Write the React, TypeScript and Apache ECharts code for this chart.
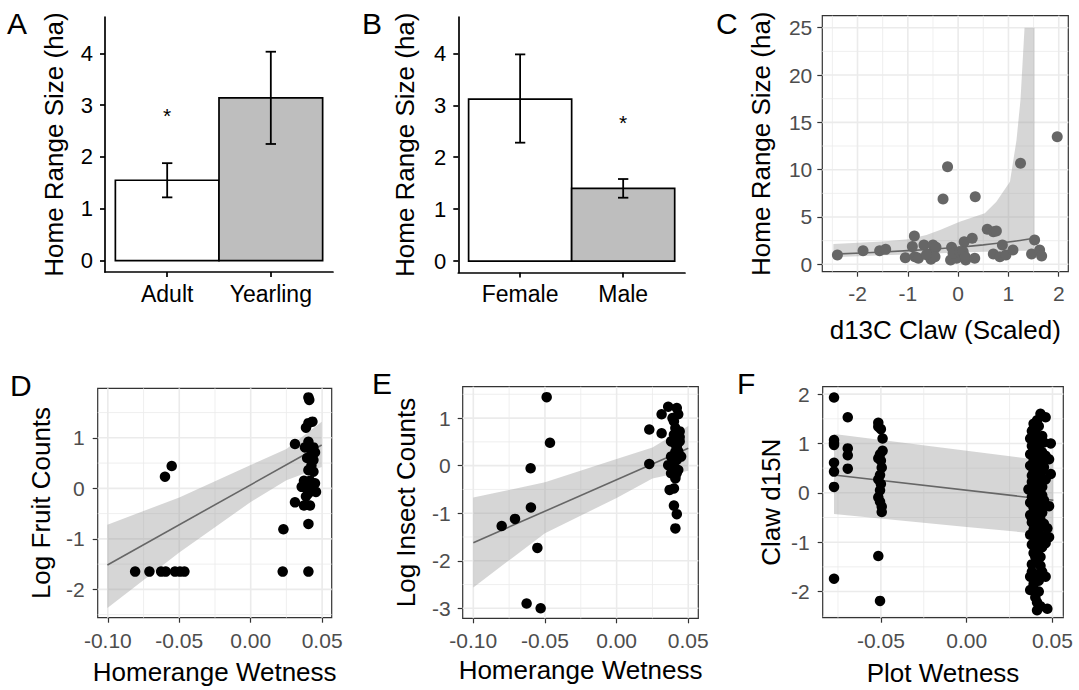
import React, { useEffect, useRef } from "react";
import * as echarts from "echarts";

const FONT = '"Liberation Sans", Arial, Helvetica, sans-serif';

// ---------------- Panel A : age ----------------
const ageCategories = ["Adult", "Yearling"];
const ageMeans = [1.55, 3.14];
const ageLower = [1.22, 2.25];
const ageUpper = [1.88, 4.03];
const ageStars = [2.9, null];

// ---------------- Panel B : sex ----------------
const sexCategories = ["Female", "Male"];
const sexMeans = [3.12, 1.4];
const sexLower = [2.28, 1.22];
const sexUpper = [3.98, 1.58];
const sexStars = [null, 2.77];

const barYTicks = [0, 1, 2, 3, 4];
const barXTicks = [1, 2];

// ---------------- Panel C : d13C claw ----------------
const clawPoints: [number, number][] = [
  [-2.4, 0.99], [-1.89, 1.44], [-1.56, 1.44], [-1.44, 1.58], [-1.05, 0.7], [-0.87, 2.99],
  [-0.91, 1.87], [-0.86, 0.81], [-0.79, 0.63], [-0.5, 1.16], [-0.68, 2.04], [-0.5, 2.04],
  [-0.44, 1.8], [-0.54, 0.53], [-0.46, 0.81], [-0.63, 1.0], [-0.3, 6.9], [-0.21, 10.32],
  [-0.13, 1.8], [-0.15, 0.46], [-0.03, 0.63], [-0.1, 1.16], [0.03, 1.33], [0.12, 2.39],
  [0.1, 1.34], [0.15, 0.46], [0.14, 0.8], [0.28, 2.75], [0.33, 0.63], [0.34, 7.15],
  [0.58, 3.7], [0.7, 3.45], [0.76, 3.52], [0.7, 1.09], [0.88, 2.04], [0.83, 0.81],
  [0.95, 0.99], [1.09, 1.51], [1.24, 10.67], [1.52, 2.57], [1.46, 1.09], [1.62, 1.51],
  [1.66, 0.88], [1.97, 13.49],
];
const clawFitX = [-2.48, -1.5, -0.5, 0, 0.5, 1.0, 1.52];
const clawFitY = [1.08, 1.3, 1.6, 1.8, 2.05, 2.35, 2.75];
const clawBandX = [-2.48, -1.5, -1.0, -0.63, -0.36, 0.03, 0.53, 0.76, 1.03, 1.16, 1.24, 1.32, 1.52];
const clawBandLow = [0.75, 0.95, 1.05, 1.12, 1.18, 1.25, 1.32, 1.36, 1.4, 1.42, 1.43, 1.44, 1.45];
const clawBandHigh = [2.15, 2.4, 2.64, 3.1, 3.63, 4.5, 5.39, 6.6, 8.73, 13.1, 17.4, 25, 25];
const clawXTicks = [-2, -1, 0, 1, 2];
const clawXMinor = [-2.5, -1.5, -0.5, 0.5, 1.5];
const clawYTicks = [0, 5, 10, 15, 20, 25];
const clawYMinor = [2.5, 7.5, 12.5, 17.5, 22.5];

// ---------------- Panel D : fruit ----------------
const fruitPoints: [number, number][] = [
  [-0.0809, -1.648], [-0.0709, -1.648], [-0.0627, -1.648], [-0.0595, -1.648], [-0.053, -1.648],
  [-0.0495, -1.648], [-0.0464, -1.648], [-0.06, 0.231], [-0.0553, 0.442], [0.0224, -1.648],
  [0.0229, -0.811], [0.031, 0.877], [0.031, -0.277], [0.0404, -1.648], [0.0404, -0.705],
  [0.0404, 1.8], [0.041, 1.75], [0.0404, 1.29], [0.0432, 1.32], [0.0387, 1.2], [0.0404, 0.92],
  [0.038, 0.81], [0.0439, 0.81], [0.0427, 0.71], [0.045, 0.71], [0.0439, 0.56], [0.0404, 0.36],
  [0.0439, 0.33], [0.0373, 0.15], [0.0415, 0.15], [0.045, 0.1], [0.0357, 0.03], [0.0392, 0.0],
  [0.0427, -0.03], [0.0457, -0.07], [0.0404, -0.1], [0.0373, -0.34], [0.0415, -0.34],
  [0.0387, -0.16], [0.0395, 0.6], [0.0425, 0.45],
];
const fruitFitX = [-0.1003, 0.0497];
const fruitFitY = [-1.516, 0.857];
const fruitBandX = [-0.1003, -0.05, 0, 0.025, 0.0497];
const fruitBandLow = [-2.37, -1.27, -0.27, 0.16, 0.42];
const fruitBandHigh = [-0.72, -0.18, 0.46, 0.78, 1.32];
const fruitXTicks = [-0.1, -0.05, 0, 0.05];
const fruitXMinor = [-0.075, -0.025, 0.025];
const fruitYTicks = [-2, -1, 0, 1];
const fruitYMinor = [-2.5, -1.5, -0.5, 0.5, 1.5];

// ---------------- Panel E : insects ----------------
const insectPoints: [number, number][] = [
  [-0.0488, 1.44], [-0.0465, 0.48], [-0.06, -0.056], [-0.0598, -0.88], [-0.0802, -1.27],
  [-0.0709, -1.12], [-0.0553, -1.73], [-0.0628, -2.9], [-0.053, -3.0], [0.0228, 0.76],
  [0.0228, 0.035], [0.0314, 1.08], [0.0314, 0.68],
  [0.036, 1.24], [0.042, 1.21], [0.043, 1.08], [0.04, 0.93], [0.041, 0.79], [0.044, 0.72],
  [0.04, 0.65], [0.043, 0.54], [0.038, 0.51], [0.042, 0.4], [0.041, 0.29], [0.045, 0.19],
  [0.038, 0.19], [0.042, 0.12], [0.036, 0.01], [0.04, -0.02], [0.043, -0.09], [0.038, -0.16],
  [0.041, -0.27], [0.04, -0.48], [0.037, -0.51], [0.04, -0.84], [0.042, -1.02], [0.041, -1.32],
  [0.039, 1.0], [0.044, 0.6], [0.041, 0.45], [0.043, 0.3], [0.039, 0.05], [0.042, -0.15],
  [0.041, -0.22], [0.044, 0.51],
];
const insectFitX = [-0.1, 0.05];
const insectFitY = [-1.62, 0.365];
const insectBandX = [-0.1, -0.05, 0, 0.025, 0.05];
const insectBandLow = [-2.56, -1.42, -0.68, -0.27, -0.11];
const insectBandHigh = [-0.67, -0.35, 0.14, 0.38, 0.835];
const insectXTicks = [-0.1, -0.05, 0, 0.05];
const insectXMinor = [-0.075, -0.025, 0.025];
const insectYTicks = [-3, -2, -1, 0, 1];
const insectYMinor = [-2.5, -1.5, -0.5, 0.5, 1.5];

// ---------------- Panel F : claw d15N ----------------
const nitrogenPoints: [number, number][] = [
  [-0.0773, 1.93], [-0.0773, 1.07], [-0.0773, 1.01], [-0.0773, 0.97], [-0.0773, 0.61],
  [-0.0773, 0.43], [-0.0773, 0.12], [-0.0773, -1.74],
  [-0.0693, 1.53], [-0.0693, 0.9], [-0.0693, 0.76], [-0.0693, 0.49],
  [-0.0515, 1.42], [-0.0515, 1.34], [-0.05, 1.29], [-0.049, 1.1], [-0.049, 0.85], [-0.0505, 0.78],
  [-0.0515, 0.7], [-0.05, 0.65], [-0.0495, 0.51], [-0.0505, 0.36], [-0.0515, 0.27], [-0.05, 0.18],
  [-0.0505, 0.05], [-0.0515, -0.09], [-0.0505, -0.18], [-0.0495, -0.28], [-0.0495, -0.39],
  [-0.0515, -1.28], [-0.0505, -2.19],
  [0.043, 1.6], [0.046, 1.53], [0.041, 1.47], [0.039, 1.4], [0.042, 1.35], [0.038, 1.25],
  [0.04, 1.2], [0.044, 1.15], [0.037, 1.1], [0.041, 1.08], [0.045, 1.02], [0.049, 1.0],
  [0.038, 0.95], [0.042, 0.92], [0.04, 0.85], [0.044, 0.82], [0.037, 0.78], [0.046, 0.75],
  [0.041, 0.7], [0.048, 0.68], [0.039, 0.65], [0.043, 0.6], [0.037, 0.55], [0.045, 0.52],
  [0.041, 0.48], [0.039, 0.42], [0.049, 0.38], [0.043, 0.36], [0.04, 0.3], [0.046, 0.27],
  [0.038, 0.22], [0.042, 0.18], [0.044, 0.12], [0.039, 0.08], [0.036, 0.07], [0.041, 0.02],
  [0.043, -0.03], [0.038, -0.08], [0.04, -0.12], [0.045, -0.15], [0.037, -0.2], [0.042, -0.25],
  [0.048, -0.27], [0.039, -0.3], [0.041, -0.36], [0.044, -0.4], [0.037, -0.45], [0.04, -0.5],
  [0.043, -0.55], [0.038, -0.6], [0.045, -0.63], [0.041, -0.68], [0.047, -0.72], [0.039, -0.75],
  [0.042, -0.8], [0.037, -0.85], [0.044, -0.88], [0.048, -0.9], [0.04, -0.95], [0.046, -1.02],
  [0.038, -1.05], [0.042, -1.15], [0.039, -1.22], [0.043, -1.3], [0.041, -1.4], [0.043, -1.48],
  [0.038, -1.6], [0.04, -1.65], [0.037, -1.7], [0.046, -1.7], [0.042, -1.78], [0.039, -1.85],
  [0.037, -1.97], [0.042, -2.0], [0.04, -2.12], [0.041, -2.22], [0.043, -2.3], [0.047, -2.35],
  [0.041, -2.38],
  [0.039, 1.3], [0.041, 1.15], [0.043, 1.0], [0.039, 0.88], [0.042, 0.72], [0.04, 0.58],
  [0.044, 0.45], [0.038, 0.35], [0.042, 0.28], [0.04, 0.15], [0.044, -0.05], [0.039, -0.18],
  [0.043, -0.32], [0.04, -0.42], [0.038, -0.52], [0.042, -0.65], [0.04, -0.78], [0.043, -0.92],
  [0.041, -0.98], [0.044, -1.1], [0.04, -1.3], [0.038, -1.45], [0.044, -1.6], [0.039, -1.75],
];
const nitrogenFitX = [-0.0773, 0.0505];
const nitrogenFitY = [0.36, -0.15];
const nitrogenBandX = [-0.0773, 0, 0.0505];
const nitrogenBandLow = [-0.43, -0.69, -0.86];
const nitrogenBandHigh = [1.19, 0.85, 0.63];
const nitrogenXTicks = [-0.05, 0, 0.05];
const nitrogenXMinor = [-0.075, -0.025, 0.025];
const nitrogenYTicks = [-2, -1, 0, 1, 2];
const nitrogenYMinor = [-2.5, -1.5, -0.5, 0.5, 1.5];

// ---------------- helpers ----------------
const GRID_COLOR = "#ebebeb";
const RIBBON = "rgba(153,153,153,0.4)";
const FIT_COLOR = "#666666";

function zip(xs: number[], ys: number[]) {
  return xs.map((x, i) => [x, ys[i]]);
}

function gridLineSeries(idx: number, xMajor: number[], xMinor: number[], yMajor: number[], yMinor: number[]) {
  const data: number[][] = [];
  xMajor.forEach((v) => data.push([v, 0, 0, 1]));
  xMinor.forEach((v) => data.push([v, 0, 0, 0]));
  yMajor.forEach((v) => data.push([0, v, 1, 1]));
  yMinor.forEach((v) => data.push([0, v, 1, 0]));
  return {
    type: "custom",
    xAxisIndex: idx,
    yAxisIndex: idx,
    z: 1,
    silent: true,
    clip: false,
    data,
    renderItem: (params: any, api: any) => {
      const cs = params.coordSys;
      const p = api.coord([api.value(0), api.value(1)]);
      const horiz = api.value(2) === 1;
      const w = api.value(3) === 1 ? 1.6 : 0.8;
      const shape = horiz
        ? { x1: cs.x, y1: p[1], x2: cs.x + cs.width, y2: p[1] }
        : { x1: p[0], y1: cs.y, x2: p[0], y2: cs.y + cs.height };
      return { type: "line", shape, style: { stroke: GRID_COLOR, lineWidth: w } };
    },
  };
}

function ribbonSeries(idx: number, xs: number[], lo: number[], hi: number[]) {
  return {
    type: "custom",
    xAxisIndex: idx,
    yAxisIndex: idx,
    z: 2,
    silent: true,
    data: [[xs[0], lo[0]]],
    renderItem: (_p: any, api: any) => {
      const pts: number[][] = [];
      for (let i = 0; i < xs.length; i++) pts.push(api.coord([xs[i], hi[i]]));
      for (let i = xs.length - 1; i >= 0; i--) pts.push(api.coord([xs[i], lo[i]]));
      return { type: "polygon", shape: { points: pts }, style: { fill: RIBBON } };
    },
  };
}

function fitSeries(idx: number, xs: number[], ys: number[], smooth = false) {
  return {
    type: "line",
    xAxisIndex: idx,
    yAxisIndex: idx,
    z: 3,
    silent: true,
    symbol: "none",
    smooth: smooth ? 0.3 : false,
    data: zip(xs, ys),
    lineStyle: { color: FIT_COLOR, width: 1.6 },
  };
}

function pointSeries(idx: number, pts: [number, number][], color: string, size: number) {
  return {
    type: "scatter",
    xAxisIndex: idx,
    yAxisIndex: idx,
    z: 4,
    silent: true,
    symbolSize: size,
    data: pts,
    itemStyle: { color, opacity: 1 },
  };
}

function barSeries(idx: number, means: number[], fills: string[]) {
  return {
    type: "custom",
    xAxisIndex: idx,
    yAxisIndex: idx,
    z: 2,
    silent: true,
    data: means.map((m, i) => [barXTicks[i], m]),
    renderItem: (params: any, api: any) => {
      const x = api.value(0);
      const v = api.value(1);
      const p1 = api.coord([x - 0.5, v]);
      const p2 = api.coord([x + 0.5, 0]);
      return {
        type: "rect",
        shape: { x: p1[0], y: p1[1], width: p2[0] - p1[0], height: p2[1] - p1[1] },
        style: { fill: fills[params.dataIndex], stroke: "#000", lineWidth: 1.7 },
      };
    },
  };
}

function errorSeries(idx: number, lo: number[], hi: number[]) {
  return {
    type: "custom",
    xAxisIndex: idx,
    yAxisIndex: idx,
    z: 3,
    silent: true,
    data: lo.map((l, i) => [barXTicks[i], l, hi[i]]),
    renderItem: (_params: any, api: any) => {
      const x = api.value(0);
      const a = api.coord([x, api.value(1)]);
      const b = api.coord([x, api.value(2)]);
      const c1 = api.coord([x - 0.05, api.value(1)]);
      const c2 = api.coord([x + 0.05, api.value(1)]);
      const style = { stroke: "#000", lineWidth: 1.8 };
      return {
        type: "group",
        children: [
          { type: "line", shape: { x1: a[0], y1: a[1], x2: b[0], y2: b[1] }, style },
          { type: "line", shape: { x1: c1[0], y1: a[1], x2: c2[0], y2: a[1] }, style },
          { type: "line", shape: { x1: c1[0], y1: b[1], x2: c2[0], y2: b[1] }, style },
        ],
      };
    },
  };
}

function starSeries(idx: number, stars: (number | null)[]) {
  const data: number[][] = [];
  stars.forEach((s, i) => {
    if (s !== null) data.push([barXTicks[i], s]);
  });
  return {
    type: "custom",
    xAxisIndex: idx,
    yAxisIndex: idx,
    z: 4,
    silent: true,
    data,
    renderItem: (_params: any, api: any) => {
      const p = api.coord([api.value(0), api.value(1)]);
      return {
        type: "text",
        x: p[0],
        y: p[1] + 5,
        style: { text: "*", fill: "#000", font: `21px ${FONT}`, align: "center", verticalAlign: "middle" },
      };
    },
  };
}

function barXAxis(idx: number, cats: string[]) {
  return {
    gridIndex: idx,
    type: "value",
    min: 0.4,
    max: 2.6,
    splitLine: { show: false },
    axisLine: { show: true, onZero: false, lineStyle: { color: "#000", width: 1.7 } },
    axisTick: { show: true, length: 5, customValues: barXTicks, lineStyle: { color: "#000", width: 1.7 } },
    axisLabel: {
      customValues: barXTicks,
      color: "#000",
      fontSize: 23,
      fontFamily: FONT,
      margin: 10,
      formatter: (v: number) => cats[Math.round(v) - 1] ?? "",
    },
  };
}

function barYAxis(idx: number, nameGap: number) {
  return {
    gridIndex: idx,
    type: "value",
    min: -0.22,
    max: 4.7,
    splitLine: { show: false },
    axisLine: { show: true, onZero: false, lineStyle: { color: "#000", width: 1.7 } },
    axisTick: { show: true, length: 5, customValues: barYTicks, lineStyle: { color: "#000", width: 1.7 } },
    axisLabel: { customValues: barYTicks, color: "#000", fontSize: 22, fontFamily: FONT, margin: 12 },
    name: "Home Range Size (ha)",
    nameLocation: "middle",
    nameGap,
    nameTextStyle: { fontSize: 26, color: "#000", fontFamily: FONT },
  };
}

function sciAxis(
  idx: number,
  min: number,
  max: number,
  ticks: number[],
  fmt: (v: number) => string,
  name: string,
  nameGap: number,
  margin: number
) {
  return {
    gridIndex: idx,
    type: "value",
    min,
    max,
    splitLine: { show: false },
    axisLine: { show: false, onZero: false },
    axisTick: { show: true, length: 5, customValues: ticks, lineStyle: { color: "#333", width: 1.2 } },
    axisLabel: { customValues: ticks, color: "#4d4d4d", fontSize: 21, fontFamily: FONT, margin, formatter: fmt },
    name,
    nameLocation: "middle",
    nameGap,
    nameTextStyle: { fontSize: 26, color: "#000", fontFamily: FONT },
  };
}

const f2 = (v: number) => v.toFixed(2);
const f0 = (v: number) => String(Math.round(v));

const panelBorder = { show: true, borderColor: "#333", borderWidth: 1.2, backgroundColor: "transparent" };

function buildOption() {
  return {
    animation: false,
    textStyle: { fontFamily: FONT },
    grid: [
      { left: 105, top: 17, width: 228, height: 255 },
      { left: 458.3, top: 17, width: 226.7, height: 255.5 },
      { left: 822.3, top: 15.7, width: 246, height: 256, ...panelBorder },
      { left: 97.7, top: 388.3, width: 234, height: 229.4, ...panelBorder },
      { left: 462.7, top: 386.7, width: 235.6, height: 231.6, ...panelBorder },
      { left: 822.7, top: 386.7, width: 240.6, height: 231, ...panelBorder },
    ],
    xAxis: [
      barXAxis(0, ageCategories),
      barXAxis(1, sexCategories),
      sciAxis(2, -2.7, 2.19, clawXTicks, f0, "d13C Claw (Scaled)", 45, 11),
      sciAxis(3, -0.1071, 0.0567, fruitXTicks, f2, "Homerange Wetness", 41, 12),
      sciAxis(4, -0.1074, 0.057, insectXTicks, f2, "Homerange Wetness", 39, 12),
      sciAxis(5, -0.0839, 0.0563, nitrogenXTicks, f2, "Plot Wetness", 42, 12),
    ],
    yAxis: [
      barYAxis(0, 38),
      barYAxis(1, 40),
      sciAxis(2, -0.78, 26.27, clawYTicks, f0, "Home Range Size (ha)", 48, 10),
      sciAxis(3, -2.56, 1.98, fruitYTicks, f0, "Log Fruit Counts", 44, 13),
      sciAxis(4, -3.21, 1.66, insectYTicks, f0, "Log Insect Counts", 44, 12),
      sciAxis(5, -2.53, 2.15, nitrogenYTicks, f0, "Claw d15N", 39, 13),
    ],
    series: [
      barSeries(0, ageMeans, ["#ffffff", "#bebebe"]),
      errorSeries(0, ageLower, ageUpper),
      starSeries(0, ageStars),
      barSeries(1, sexMeans, ["#ffffff", "#bebebe"]),
      errorSeries(1, sexLower, sexUpper),
      starSeries(1, sexStars),

      gridLineSeries(2, clawXTicks, clawXMinor, clawYTicks, clawYMinor),
      ribbonSeries(2, clawBandX, clawBandLow, clawBandHigh),
      fitSeries(2, clawFitX, clawFitY, true),
      pointSeries(2, clawPoints, "#666666", 11),

      gridLineSeries(3, fruitXTicks, fruitXMinor, fruitYTicks, fruitYMinor),
      ribbonSeries(3, fruitBandX, fruitBandLow, fruitBandHigh),
      fitSeries(3, fruitFitX, fruitFitY),
      pointSeries(3, fruitPoints, "#000000", 10.5),

      gridLineSeries(4, insectXTicks, insectXMinor, insectYTicks, insectYMinor),
      ribbonSeries(4, insectBandX, insectBandLow, insectBandHigh),
      fitSeries(4, insectFitX, insectFitY),
      pointSeries(4, insectPoints, "#000000", 10.5),

      gridLineSeries(5, nitrogenXTicks, nitrogenXMinor, nitrogenYTicks, nitrogenYMinor),
      ribbonSeries(5, nitrogenBandX, nitrogenBandLow, nitrogenBandHigh),
      fitSeries(5, nitrogenFitX, nitrogenFitY),
      pointSeries(5, nitrogenPoints, "#000000", 10.5),
    ],
    graphic: [
      { type: "text", x: 7, y: 23, style: { text: "A", fill: "#000", font: `30px ${FONT}`, verticalAlign: "middle" } },
      { type: "text", x: 362, y: 23, style: { text: "B", fill: "#000", font: `30px ${FONT}`, verticalAlign: "middle" } },
      { type: "text", x: 716, y: 23, style: { text: "C", fill: "#000", font: `30px ${FONT}`, verticalAlign: "middle" } },
      { type: "text", x: 10, y: 385, style: { text: "D", fill: "#000", font: `30px ${FONT}`, verticalAlign: "middle" } },
      { type: "text", x: 372, y: 383, style: { text: "E", fill: "#000", font: `30px ${FONT}`, verticalAlign: "middle" } },
      { type: "text", x: 737, y: 383, style: { text: "F", fill: "#000", font: `30px ${FONT}`, verticalAlign: "middle" } },
    ],
  };
}

export default function App() {
  const ref = useRef<HTMLDivElement>(null);
  useEffect(() => {
    if (!ref.current) return;
    const chart = echarts.init(ref.current, undefined, { renderer: "svg" });
    chart.setOption(buildOption() as any);
    return () => chart.dispose();
  }, []);
  return (
    <div
      ref={ref}
      style={{ position: "fixed", left: 0, top: 0, width: 1079, height: 690, background: "#fff" }}
    />
  );
}
